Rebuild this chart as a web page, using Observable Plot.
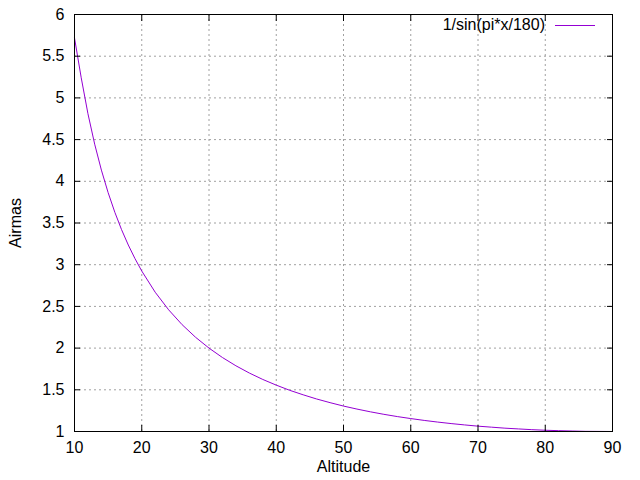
<!DOCTYPE html>
<html><head><meta charset="utf-8">
<script src="https://cdn.jsdelivr.net/npm/d3@7"></script>
<script src="https://cdn.jsdelivr.net/npm/@observablehq/plot@0.6"></script>
<style>
body{margin:0;background:#fff;}
#wrap{position:relative;width:640px;height:480px;font-family:"Liberation Sans",Arial,sans-serif;}
#legend{position:absolute;top:16px;right:45px;font-size:16px;display:flex;align-items:center;gap:10px;}
#legend span.sw{display:inline-block;width:40px;height:0;border-top:1px solid #9400d3;}
</style>
</head><body>
<div id="wrap"><div id="legend"><span>1/sin(pi*x/180)</span><span class="sw"></span></div></div>
<script>
const altitude = [10,11,12,13,14,15,16,17,18,19,20,22,24,26,28,30,32,34,36,38,40,42,44,46,48,50,52,54,56,58,60,62,64,66,68,70,72,74,76,78,80,82,84,86,88,90];
const airmass = [5.720,5.241,4.810,4.445,4.134,3.864,3.628,3.420,3.236,3.072,2.924,2.670,2.459,2.281,2.130,2.000,1.887,1.788,1.701,1.624,1.556,1.494,1.440,1.390,1.346,1.305,1.269,1.236,1.206,1.179,1.155,1.133,1.113,1.095,1.079,1.064,1.052,1.040,1.031,1.022,1.015,1.010,1.006,1.002,1.001,1.000];
const xTicks = [10,20,30,40,50,60,70,80,90];
const yTicks = [1,1.5,2,2.5,3,3.5,4,4.5,5,5.5,6];
const data = altitude.map((a,i)=>({x:a,y:airmass[i]}));
const font = "16px";
const chart = Plot.plot({
  width:640, height:480,
  marginLeft:74, marginRight:28, marginTop:14, marginBottom:49,
  style:{fontFamily:"Liberation Sans, Arial, sans-serif", fontSize:font, color:"#000", background:"#fff"},
  x:{domain:[10,90]},
  y:{domain:[1,6]},
  marks:[
    Plot.gridX(xTicks,{stroke:"#a0a0a0", strokeOpacity:1, strokeDasharray:"2,3"}),
    Plot.gridY(yTicks,{stroke:"#a0a0a0", strokeOpacity:1, strokeDasharray:"2,3"}),
    Plot.line(data,{x:"x",y:"y",stroke:"#9400d3",strokeWidth:1}),
    Plot.frame({stroke:"#000", strokeWidth:1}),
    Plot.axisX(xTicks,{anchor:"bottom", tickSize:-6, tickPadding:16, fontSize:font, label:"Altitude", labelAnchor:"center", labelArrow:"none", labelOffset:40}),
    Plot.axisX(xTicks,{anchor:"top", tickSize:-6, tickFormat:()=>"", label:null}),
    Plot.axisY(yTicks,{anchor:"left", tickSize:-6, tickPadding:16, fontSize:font, tickFormat:d=>String(d), label:"Airmas", labelAnchor:"center", labelArrow:"none", labelOffset:65}),
    Plot.axisY(yTicks,{anchor:"right", tickSize:-6, tickFormat:()=>"", label:null})
  ]
});
document.getElementById("wrap").prepend(chart);
</script>
</body></html>
